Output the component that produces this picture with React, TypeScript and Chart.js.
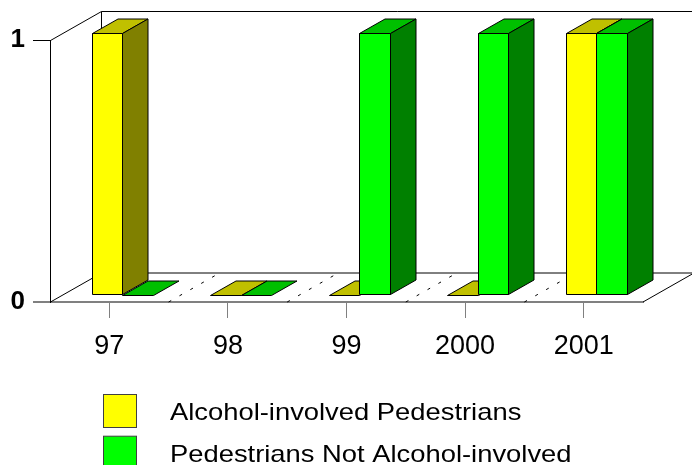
import React, { useEffect, useRef } from 'react';
import { Chart, registerables } from 'chart.js';

Chart.register(...registerables);

// ---- data ----
const categories = ['97', '98', '99', '2000', '2001'];
const alcoholInvolved = [1, 0, 0, 0, 1];
const notAlcoholInvolved = [0, 0, 1, 1, 1];
const seriesLabels = ['Alcohol-involved Pedestrians', 'Pedestrians Not Alcohol-involved'];
const yTickValues = [0, 1];

// ---- styles ----
const FRONT = ['#FFFF00', '#00FF00'];
const TOP = ['#C0C000', '#00C000'];
const SIDE = ['#808000', '#008000'];
const DEPTH_X = 51;
const DEPTH_Y = -29;
const BAR_NEAR = 0.25;
const BAR_FAR = 0.75;
const FONT = "'Liberation Sans', Arial, sans-serif";

function seg(ctx: CanvasRenderingContext2D, x1: number, y1: number, x2: number, y2: number) {
  ctx.beginPath();
  ctx.moveTo(x1, y1);
  ctx.lineTo(x2, y2);
  ctx.stroke();
}

function poly(ctx: CanvasRenderingContext2D, pts: number[][], fill: string) {
  ctx.beginPath();
  ctx.moveTo(pts[0][0], pts[0][1]);
  for (let i = 1; i < pts.length; i++) ctx.lineTo(pts[i][0], pts[i][1]);
  ctx.closePath();
  ctx.fillStyle = fill;
  ctx.fill();
  ctx.stroke();
}

const box3d = {
  id: 'box3d',
  beforeDatasetsDraw(chart: any) {
    const { ctx, chartArea: a } = chart;
    const L = a.left + 0.5, R = a.right, T = a.top + 0.5, B = a.bottom;
    const dx = DEPTH_X, dy = DEPTH_Y;
    ctx.save();
    ctx.strokeStyle = '#000';
    ctx.lineWidth = 1;
    seg(ctx, L + dx, T + dy, R + dx + 10, T + dy);
    seg(ctx, L + dx, T + dy, L + dx, B + dy);
    seg(ctx, L + dx, B + dy, R + dx, B + dy);
    seg(ctx, L, T, L + dx, T + dy);
    seg(ctx, L, B, L + dx, B + dy);
    seg(ctx, R, B, R + dx, B + dy);
    const xs = chart.scales.x;
    ctx.setLineDash([3, 9.5]);
    for (let i = 1; i < categories.length; i++) {
      const xb = (xs.getPixelForValue(i - 1) + xs.getPixelForValue(i)) / 2;
      seg(ctx, xb, B, xb + dx, B + dy);
    }
    ctx.restore();
  },
  afterDatasetsDraw(chart: any) {
    const { ctx } = chart;
    const nx = DEPTH_X * BAR_NEAR, ny = DEPTH_Y * BAR_NEAR;
    const ox = DEPTH_X * (BAR_FAR - BAR_NEAR), oy = DEPTH_Y * (BAR_FAR - BAR_NEAR);
    ctx.save();
    ctx.strokeStyle = '#000';
    ctx.lineWidth = 1;
    ctx.lineJoin = 'miter';
    const n = chart.data.datasets.length;
    for (let j = 0; j < categories.length; j++) {
      for (let i = 0; i < n; i++) {
        const el = chart.getDatasetMeta(i).data[j];
        const x0 = Math.round(el.x - el.width / 2 + nx) + 0.5;
        const x1 = Math.round(el.x + el.width / 2 + nx) + 0.5;
        const yt = Math.round(el.y + ny) + 0.5;
        const yb = Math.round(el.base + ny) + 0.5;
        if (yb - yt > 0.5) {
          poly(ctx, [[x0, yt], [x1, yt], [x1, yb], [x0, yb]], FRONT[i]);
        }
        poly(ctx, [[x0, yt], [x1, yt], [x1 + ox, yt + oy], [x0 + ox, yt + oy]], TOP[i]);
        if (yb - yt > 0.5) {
          poly(ctx, [[x1, yt], [x1 + ox, yt + oy], [x1 + ox, yb + oy], [x1, yb]], SIDE[i]);
        }
      }
    }
    ctx.restore();
  },
  afterDraw(chart: any) {
    const { ctx } = chart;
    ctx.save();
    chart.data.datasets.forEach((ds: any, i: number) => {
      const bx = 103.5, by = 394.5 + i * 41.7;
      ctx.fillStyle = FRONT[i];
      ctx.strokeStyle = '#404040';
      ctx.lineWidth = 1;
      ctx.fillRect(bx, by, 33, 33);
      ctx.strokeRect(bx, by, 33, 33);
      ctx.save();
      ctx.translate(170, by + 25.5);
      ctx.scale(1.14, 1);
      ctx.fillStyle = '#000';
      ctx.font = `24px ${FONT}`;
      ctx.textBaseline = 'alphabetic';
      ctx.textAlign = 'left';
      ctx.fillText(ds.label, 0, 0);
      ctx.restore();
    });
    ctx.restore();
  },
};

export default function App() {
  const ref = useRef<HTMLCanvasElement | null>(null);
  useEffect(() => {
    if (!ref.current) return;
    const chart = new Chart(ref.current, {
      type: 'bar',
      data: {
        labels: categories,
        datasets: [
          { label: seriesLabels[0], data: alcoholInvolved, backgroundColor: 'rgba(0,0,0,0)', borderWidth: 0 },
          { label: seriesLabels[1], data: notAlcoholInvolved, backgroundColor: 'rgba(0,0,0,0)', borderWidth: 0 },
        ],
      },
      options: {
        responsive: false,
        animation: false,
        devicePixelRatio: 1,
        layout: { padding: { top: 40, right: 49, left: 0, bottom: 0 } },
        datasets: { bar: { categoryPercentage: 0.514, barPercentage: 1 } },
        plugins: { legend: { display: false }, tooltip: { enabled: false } },
        scales: {
          x: {
            offset: true,
            grid: { offset: false, drawOnChartArea: false, tickLength: 16, color: '#808080' },
            border: { color: '#808080', width: 2 },
            ticks: { font: { family: FONT, size: 27 }, color: '#000', padding: 12, maxRotation: 0, autoSkip: false },
            afterFit: (s: any) => { s.height = 163; },
          },
          y: {
            min: 0,
            max: 1,
            afterBuildTicks: (s: any) => { s.ticks = yTickValues.map((v) => ({ value: v })); },
            grid: {
              drawOnChartArea: false,
              tickLength: 17,
              color: (c: any) => (c.tick && c.tick.value === 0 ? '#808080' : '#000'),
              lineWidth: (c: any) => (c.tick && c.tick.value === 0 ? 2 : 1),
            },
            border: { color: '#000', width: 1 },
            ticks: { font: { family: FONT, size: 26, weight: 'bold' }, color: '#000', padding: 8 },
            afterFit: (s: any) => { s.width = 50; },
          },
        },
      },
      plugins: [box3d],
    } as any);
    return () => chart.destroy();
  }, []);
  return (
    <div style={{ position: 'fixed', left: 0, top: 0, width: 692, height: 465, background: '#fff' }}>
      <canvas ref={ref} width={692} height={465} />
    </div>
  );
}
